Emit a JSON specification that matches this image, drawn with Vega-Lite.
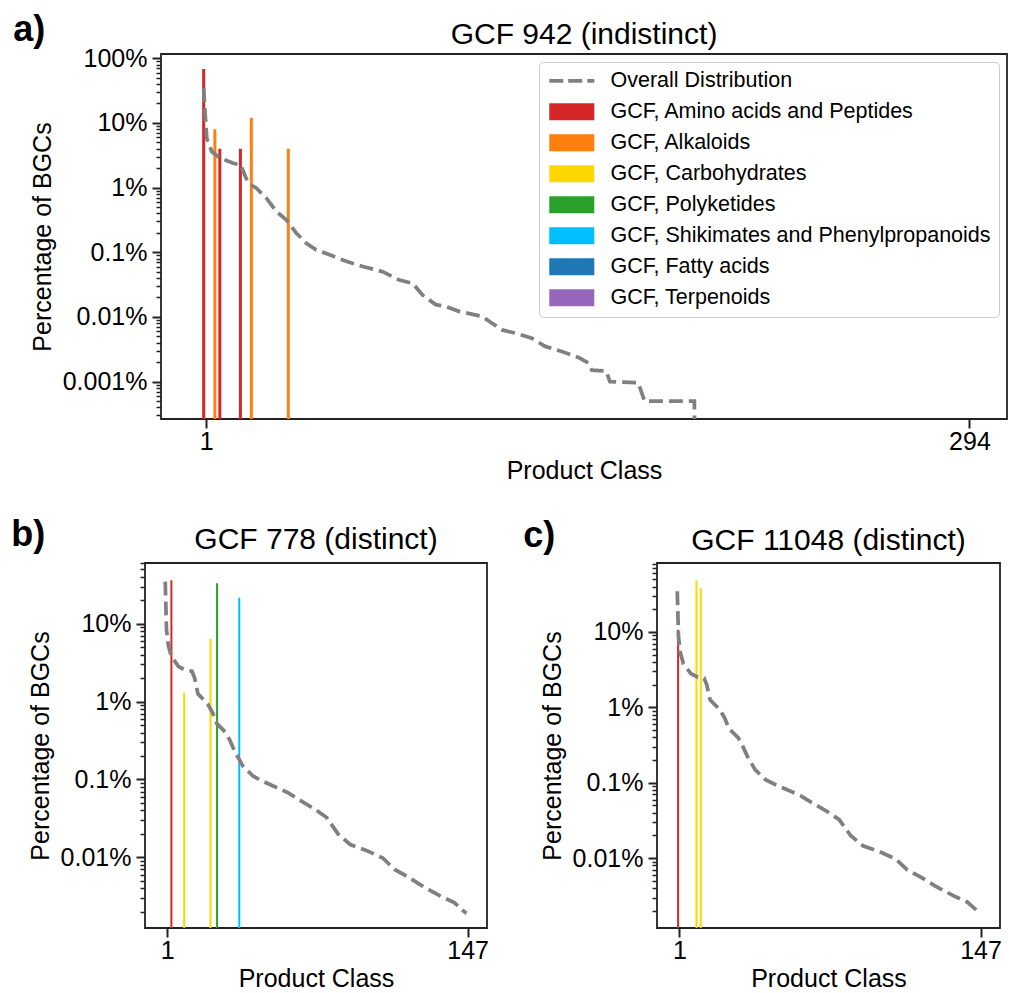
{
  "$schema": "https://vega.github.io/schema/vega-lite/v6.json",
  "background": "white",
  "padding": {"left": 11, "top": 12, "right": 0, "bottom": 0},
  "config": {
    "font": "Liberation Sans",
    "view": {"stroke": "#222222", "strokeWidth": 1.8},
    "axis": {"labelFontSize": 25, "titleFontSize": 25, "titleFontWeight": "normal", "labelColor": "#000000", "titleColor": "#000000", "tickColor": "#222222", "labelFont": "Liberation Sans", "titleFont": "Liberation Sans", "domain": false, "grid": false},
    "title": {"font": "Liberation Sans", "fontSize": 30, "fontWeight": "normal", "color": "#000000"}
  },
  "datasets": {
    "lineA": [
      {"x": 0, "pct": 34.4, "series": "Overall Distribution"},
      {"x": 0.6, "pct": 13.3, "series": "Overall Distribution"},
      {"x": 1.2, "pct": 5.75, "series": "Overall Distribution"},
      {"x": 3.1, "pct": 3.61, "series": "Overall Distribution"},
      {"x": 6.3, "pct": 2.85, "series": "Overall Distribution"},
      {"x": 11.4, "pct": 2.38, "series": "Overall Distribution"},
      {"x": 14.2, "pct": 2.24, "series": "Overall Distribution"},
      {"x": 17.1, "pct": 1.17, "series": "Overall Distribution"},
      {"x": 20.3, "pct": 0.977, "series": "Overall Distribution"},
      {"x": 24.1, "pct": 0.686, "series": "Overall Distribution"},
      {"x": 27.9, "pct": 0.427, "series": "Overall Distribution"},
      {"x": 31.8, "pct": 0.316, "series": "Overall Distribution"},
      {"x": 35.6, "pct": 0.197, "series": "Overall Distribution"},
      {"x": 39.4, "pct": 0.138, "series": "Overall Distribution"},
      {"x": 43.2, "pct": 0.109, "series": "Overall Distribution"},
      {"x": 48.4, "pct": 0.0912, "series": "Overall Distribution"},
      {"x": 54.7, "pct": 0.0724, "series": "Overall Distribution"},
      {"x": 61.1, "pct": 0.0603, "series": "Overall Distribution"},
      {"x": 68.7, "pct": 0.0501, "series": "Overall Distribution"},
      {"x": 75.1, "pct": 0.0372, "series": "Overall Distribution"},
      {"x": 80.2, "pct": 0.0331, "series": "Overall Distribution"},
      {"x": 84, "pct": 0.0219, "series": "Overall Distribution"},
      {"x": 89.1, "pct": 0.0155, "series": "Overall Distribution"},
      {"x": 92.9, "pct": 0.0145, "series": "Overall Distribution"},
      {"x": 98, "pct": 0.0122, "series": "Overall Distribution"},
      {"x": 106.9, "pct": 0.0102, "series": "Overall Distribution"},
      {"x": 110.7, "pct": 0.008, "series": "Overall Distribution"},
      {"x": 114.6, "pct": 0.0063, "series": "Overall Distribution"},
      {"x": 119.6, "pct": 0.00562, "series": "Overall Distribution"},
      {"x": 126, "pct": 0.00468, "series": "Overall Distribution"},
      {"x": 131.1, "pct": 0.0035, "series": "Overall Distribution"},
      {"x": 137.5, "pct": 0.00292, "series": "Overall Distribution"},
      {"x": 143.9, "pct": 0.00236, "series": "Overall Distribution"},
      {"x": 147.7, "pct": 0.00193, "series": "Overall Distribution"},
      {"x": 149, "pct": 0.0015, "series": "Overall Distribution"},
      {"x": 154.5, "pct": 0.00145, "series": "Overall Distribution"},
      {"x": 156, "pct": 0.001, "series": "Overall Distribution"},
      {"x": 166.8, "pct": 0.00096, "series": "Overall Distribution"},
      {"x": 169.3, "pct": 0.0005, "series": "Overall Distribution"},
      {"x": 188.4, "pct": 0.0005, "series": "Overall Distribution"},
      {"x": 188.6, "pct": 0.00001, "series": "Overall Distribution"}
    ],
    "lineBC": [
      {"x": 0, "pct": 34.67, "series": "Overall Distribution"},
      {"x": 0.6, "pct": 8.51, "series": "Overall Distribution"},
      {"x": 1.5, "pct": 5.25, "series": "Overall Distribution"},
      {"x": 3, "pct": 3.8, "series": "Overall Distribution"},
      {"x": 6.5, "pct": 2.82, "series": "Overall Distribution"},
      {"x": 10, "pct": 2.51, "series": "Overall Distribution"},
      {"x": 13, "pct": 2.45, "series": "Overall Distribution"},
      {"x": 14.3, "pct": 2.0, "series": "Overall Distribution"},
      {"x": 15.9, "pct": 1.26, "series": "Overall Distribution"},
      {"x": 20.6, "pct": 0.933, "series": "Overall Distribution"},
      {"x": 23, "pct": 0.724, "series": "Overall Distribution"},
      {"x": 25, "pct": 0.525, "series": "Overall Distribution"},
      {"x": 29.5, "pct": 0.398, "series": "Overall Distribution"},
      {"x": 31.5, "pct": 0.316, "series": "Overall Distribution"},
      {"x": 34, "pct": 0.224, "series": "Overall Distribution"},
      {"x": 37.8, "pct": 0.148, "series": "Overall Distribution"},
      {"x": 42.8, "pct": 0.11, "series": "Overall Distribution"},
      {"x": 47.2, "pct": 0.0955, "series": "Overall Distribution"},
      {"x": 53, "pct": 0.0813, "series": "Overall Distribution"},
      {"x": 59.7, "pct": 0.0676, "series": "Overall Distribution"},
      {"x": 65, "pct": 0.055, "series": "Overall Distribution"},
      {"x": 72.3, "pct": 0.0422, "series": "Overall Distribution"},
      {"x": 78.5, "pct": 0.0324, "series": "Overall Distribution"},
      {"x": 84, "pct": 0.02, "series": "Overall Distribution"},
      {"x": 90, "pct": 0.0146, "series": "Overall Distribution"},
      {"x": 98, "pct": 0.0122, "series": "Overall Distribution"},
      {"x": 105.8, "pct": 0.00977, "series": "Overall Distribution"},
      {"x": 111.5, "pct": 0.007, "series": "Overall Distribution"},
      {"x": 118, "pct": 0.00562, "series": "Overall Distribution"},
      {"x": 124.5, "pct": 0.00437, "series": "Overall Distribution"},
      {"x": 128.5, "pct": 0.0038, "series": "Overall Distribution"},
      {"x": 134, "pct": 0.00316, "series": "Overall Distribution"},
      {"x": 140.5, "pct": 0.00263, "series": "Overall Distribution"},
      {"x": 145, "pct": 0.00204, "series": "Overall Distribution"},
      {"x": 146.5, "pct": 0.00191, "series": "Overall Distribution"}
    ],
    "barsA": [
      {"x": 0, "pct": 68, "category": "GCF, Amino acids and Peptides"},
      {"x": 4.3, "pct": 8, "category": "GCF, Alkaloids"},
      {"x": 6.2, "pct": 4, "category": "GCF, Amino acids and Peptides"},
      {"x": 14.1, "pct": 4, "category": "GCF, Amino acids and Peptides"},
      {"x": 18.3, "pct": 12, "category": "GCF, Alkaloids"},
      {"x": 32.5, "pct": 4, "category": "GCF, Alkaloids"}
    ],
    "barsB": [
      {"x": 3, "pct": 36, "category": "GCF, Amino acids and Peptides"},
      {"x": 9.2, "pct": 1.3, "category": "GCF, Carbohydrates"},
      {"x": 22, "pct": 6.4, "category": "GCF, Carbohydrates"},
      {"x": 25.2, "pct": 33, "category": "GCF, Polyketides"},
      {"x": 36, "pct": 21.5, "category": "GCF, Shikimates and Phenylpropanoids"}
    ],
    "barsC": [
      {"x": 0.4, "pct": 10.7, "category": "GCF, Amino acids and Peptides"},
      {"x": 9.3, "pct": 48, "category": "GCF, Carbohydrates"},
      {"x": 11.4, "pct": 38, "category": "GCF, Carbohydrates"}
    ]
  },
  "concat": [
    {
      "concat": [
        {
          "width": 1,
          "height": 1,
          "view": {"stroke": null},
          "data": {"values": []},
          "mark": "point",
          "encoding": {}
        },
        {
          "vconcat": [
            {
              "width": 846,
              "height": 365,
              "title": {"text": "GCF 942 (indistinct)", "frame": "group", "offset": -4},
              "layer": [
                {
                  "data": {"name": "barsA"},
                  "mark": {"type": "bar", "size": 3, "clip": true},
                  "encoding": {
                    "x": {"field": "x", "type": "quantitative", "scale": {"domain": [-14.46, 306.5], "nice": false, "zero": false},
                      "axis": {"title": "Product Class", "values": [1, 294], "tickSize": 9, "tickWidth": 2, "labelPadding": 1.5, "titlePadding": 4, "labelFlush": false}},
                    "y": {"field": "pct", "type": "quantitative", "scale": {"type": "log", "domain": [0.000264, 116.4], "nice": false},
                      "axis": {"title": "Percentage of BGCs",
                        "values": [0.0003, 0.0004, 0.0005, 0.0006, 0.0007, 0.0008, 0.0009, 0.001, 0.002, 0.003, 0.004, 0.005, 0.006, 0.007, 0.008, 0.009, 0.01, 0.02, 0.03, 0.04, 0.05, 0.06, 0.07, 0.08, 0.09, 0.1, 0.2, 0.3, 0.4, 0.5, 0.6, 0.7, 0.8, 0.9, 1, 2, 3, 4, 5, 6, 7, 8, 9, 10, 20, 30, 40, 50, 60, 70, 80, 90, 100],
                        "labelExpr": "abs(log(datum.value)/LN10 - round(log(datum.value)/LN10)) < 1e-6 ? datum.value + '%' : ''",
                        "tickSize": {"condition": {"test": "abs(log(datum.value)/LN10 - round(log(datum.value)/LN10)) < 1e-6", "value": 9}, "value": 5},
                        "tickWidth": {"condition": {"test": "abs(log(datum.value)/LN10 - round(log(datum.value)/LN10)) < 1e-6", "value": 2}, "value": 1.5},
                        "labelPadding": 5, "titlePadding": 7, "labelOverlap": false, "labelFlush": false}},
                    "y2": {"datum": 0.000264},
                    "color": {"field": "category", "type": "nominal",
                      "scale": {"domain": ["Overall Distribution", "GCF, Amino acids and Peptides", "GCF, Alkaloids", "GCF, Carbohydrates", "GCF, Polyketides", "GCF, Shikimates and Phenylpropanoids", "GCF, Fatty acids", "GCF, Terpenoids"],
                        "range": ["#808080", "#d62728", "#ff7f0e", "#ffd700", "#2ca02c", "#00bfff", "#1f77b4", "#9467bd"]},
                      "legend": {"title": null, "orient": "top-right", "offset": 8, "padding": 8, "labelFontSize": 21.5, "labelFont": "Liberation Sans", "labelColor": "#000000",
                        "symbolSize": 289, "rowPadding": 8, "labelOffset": 42, "labelLimit": 500,
                        "fillColor": "#ffffff", "strokeColor": "#cccccc", "cornerRadius": 4,
                        "encode": {"symbols": {"update": {
                          "shape": {"signal": "datum.value === 'Overall Distribution' ? 'M-1,0H4.3' : 'M-1,-1H4.3V1H-1Z'"},
                          "fill": {"signal": "datum.value === 'Overall Distribution' ? 'transparent' : datum.value === 'GCF, Amino acids and Peptides' ? '#d62728' : datum.value === 'GCF, Alkaloids' ? '#ff7f0e' : datum.value === 'GCF, Carbohydrates' ? '#ffd700' : datum.value === 'GCF, Polyketides' ? '#2ca02c' : datum.value === 'GCF, Shikimates and Phenylpropanoids' ? '#00bfff' : datum.value === 'GCF, Fatty acids' ? '#1f77b4' : '#9467bd'"},
                          "stroke": {"signal": "datum.value === 'Overall Distribution' ? '#808080' : 'transparent'"},
                          "strokeWidth": {"signal": "datum.value === 'Overall Distribution' ? 3.75 : 0"},
                          "strokeDash": {"signal": "datum.value === 'Overall Distribution' ? [14, 5] : []"},
                          "fillOpacity": {"value": 1},
                          "strokeOpacity": {"value": 1},
                          "opacity": {"value": 1}
                        }}}}}
                  }
                },
                {
                  "data": {"name": "lineA"},
                  "mark": {"type": "line", "strokeDash": [13.9, 6], "strokeWidth": 3.75, "strokeCap": "butt", "clip": true},
                  "encoding": {
                    "x": {"field": "x", "type": "quantitative"},
                    "y": {"field": "pct", "type": "quantitative"},
                    "color": {"field": "series", "type": "nominal"}
                  }
                }
              ]
            }
          ],
          "title": {"text": "a)", "fontSize": 36, "fontWeight": "bold", "anchor": "start", "frame": "bounds", "offset": -30, "dx": -16},
          "resolve": {"scale": {"color": "independent"}}
        }
      ],
      "columns": 2,
      "align": "each",
      "spacing": -133,
      "resolve": {"scale": {"color": "independent"}}
    },
    {
      "hconcat": [
        {
          "vconcat": [
            {
              "width": 342,
              "height": 365,
              "title": {"text": "GCF 778 (distinct)", "frame": "group", "offset": -4},
              "layer": [
                {
                  "data": {"name": "barsB"},
                  "mark": {"type": "bar", "size": 2, "clip": true},
                  "encoding": {
                    "x": {"field": "x", "type": "quantitative", "scale": {"domain": [-7.4, 154], "nice": false, "zero": false},
                      "axis": {"title": "Product Class", "values": [1, 147], "tickSize": 9, "tickWidth": 2, "labelPadding": 1, "titlePadding": 3, "labelFlush": false}},
                    "y": {"field": "pct", "type": "quantitative", "scale": {"type": "log", "domain": [0.001239, 60.1], "nice": false},
                      "axis": {"title": "Percentage of BGCs",
                        "values": [0.002, 0.003, 0.004, 0.005, 0.006, 0.007, 0.008, 0.009, 0.01, 0.02, 0.03, 0.04, 0.05, 0.06, 0.07, 0.08, 0.09, 0.1, 0.2, 0.3, 0.4, 0.5, 0.6, 0.7, 0.8, 0.9, 1, 2, 3, 4, 5, 6, 7, 8, 9, 10, 20, 30, 40, 50, 60],
                        "labelExpr": "abs(log(datum.value)/LN10 - round(log(datum.value)/LN10)) < 1e-6 ? datum.value + '%' : ''",
                        "tickSize": {"condition": {"test": "abs(log(datum.value)/LN10 - round(log(datum.value)/LN10)) < 1e-6", "value": 9}, "value": 5},
                        "tickWidth": {"condition": {"test": "abs(log(datum.value)/LN10 - round(log(datum.value)/LN10)) < 1e-6", "value": 2}, "value": 1.5},
                        "labelPadding": 5, "titlePadding": 7, "labelOverlap": false, "labelFlush": false}},
                    "y2": {"datum": 0.001239},
                    "color": {"field": "category", "type": "nominal",
                      "scale": {"domain": ["Overall Distribution", "GCF, Amino acids and Peptides", "GCF, Alkaloids", "GCF, Carbohydrates", "GCF, Polyketides", "GCF, Shikimates and Phenylpropanoids", "GCF, Fatty acids", "GCF, Terpenoids"],
                        "range": ["#808080", "#d62728", "#ff7f0e", "#ffd700", "#2ca02c", "#00bfff", "#1f77b4", "#9467bd"]},
                      "legend": null}
                  }
                },
                {
                  "data": {"name": "lineBC"},
                  "mark": {"type": "line", "strokeDash": [13.9, 6], "strokeWidth": 3.75, "strokeCap": "butt", "clip": true},
                  "encoding": {
                    "x": {"field": "x", "type": "quantitative"},
                    "y": {"field": "pct", "type": "quantitative"},
                    "color": {"field": "series", "type": "nominal", "legend": null}
                  }
                }
              ]
            }
          ],
          "title": {"text": "b)", "fontSize": 36, "fontWeight": "bold", "anchor": "start", "frame": "bounds", "offset": -30, "dx": -16},
          "resolve": {"scale": {"color": "independent"}}
        },
        {
          "vconcat": [
            {
              "width": 343,
              "height": 365,
              "title": {"text": "GCF 11048 (distinct)", "frame": "group", "offset": -4},
              "layer": [
                {
                  "data": {"name": "barsC"},
                  "mark": {"type": "bar", "size": 2, "clip": true},
                  "encoding": {
                    "x": {"field": "x", "type": "quantitative", "scale": {"domain": [-7.4, 154], "nice": false, "zero": false},
                      "axis": {"title": "Product Class", "values": [1, 147], "tickSize": 9, "tickWidth": 2, "labelPadding": 1, "titlePadding": 3, "labelFlush": false}},
                    "y": {"field": "pct", "type": "quantitative", "scale": {"type": "log", "domain": [0.001186, 82.2], "nice": false},
                      "axis": {"title": "Percentage of BGCs",
                        "values": [0.002, 0.003, 0.004, 0.005, 0.006, 0.007, 0.008, 0.009, 0.01, 0.02, 0.03, 0.04, 0.05, 0.06, 0.07, 0.08, 0.09, 0.1, 0.2, 0.3, 0.4, 0.5, 0.6, 0.7, 0.8, 0.9, 1, 2, 3, 4, 5, 6, 7, 8, 9, 10, 20, 30, 40, 50, 60, 70, 80],
                        "labelExpr": "abs(log(datum.value)/LN10 - round(log(datum.value)/LN10)) < 1e-6 ? datum.value + '%' : ''",
                        "tickSize": {"condition": {"test": "abs(log(datum.value)/LN10 - round(log(datum.value)/LN10)) < 1e-6", "value": 9}, "value": 5},
                        "tickWidth": {"condition": {"test": "abs(log(datum.value)/LN10 - round(log(datum.value)/LN10)) < 1e-6", "value": 2}, "value": 1.5},
                        "labelPadding": 5, "titlePadding": 7, "labelOverlap": false, "labelFlush": false}},
                    "y2": {"datum": 0.001186},
                    "color": {"field": "category", "type": "nominal",
                      "scale": {"domain": ["Overall Distribution", "GCF, Amino acids and Peptides", "GCF, Alkaloids", "GCF, Carbohydrates", "GCF, Polyketides", "GCF, Shikimates and Phenylpropanoids", "GCF, Fatty acids", "GCF, Terpenoids"],
                        "range": ["#808080", "#d62728", "#ff7f0e", "#ffd700", "#2ca02c", "#00bfff", "#1f77b4", "#9467bd"]},
                      "legend": null}
                  }
                },
                {
                  "data": {"name": "lineBC"},
                  "mark": {"type": "line", "strokeDash": [13.9, 6], "strokeWidth": 3.75, "strokeCap": "butt", "clip": true},
                  "encoding": {
                    "x": {"field": "x", "type": "quantitative"},
                    "y": {"field": "pct", "type": "quantitative"},
                    "color": {"field": "series", "type": "nominal", "legend": null}
                  }
                }
              ]
            }
          ],
          "title": {"text": "c)", "fontSize": 36, "fontWeight": "bold", "anchor": "start", "frame": "bounds", "offset": -30, "dx": -16},
          "resolve": {"scale": {"color": "independent"}}
        }
      ],
      "spacing": 33,
      "resolve": {"scale": {"color": "independent"}}
    }
  ],
  "columns": 1,
  "align": "none",
  "spacing": 32,
  "resolve": {"scale": {"color": "independent"}}
}
